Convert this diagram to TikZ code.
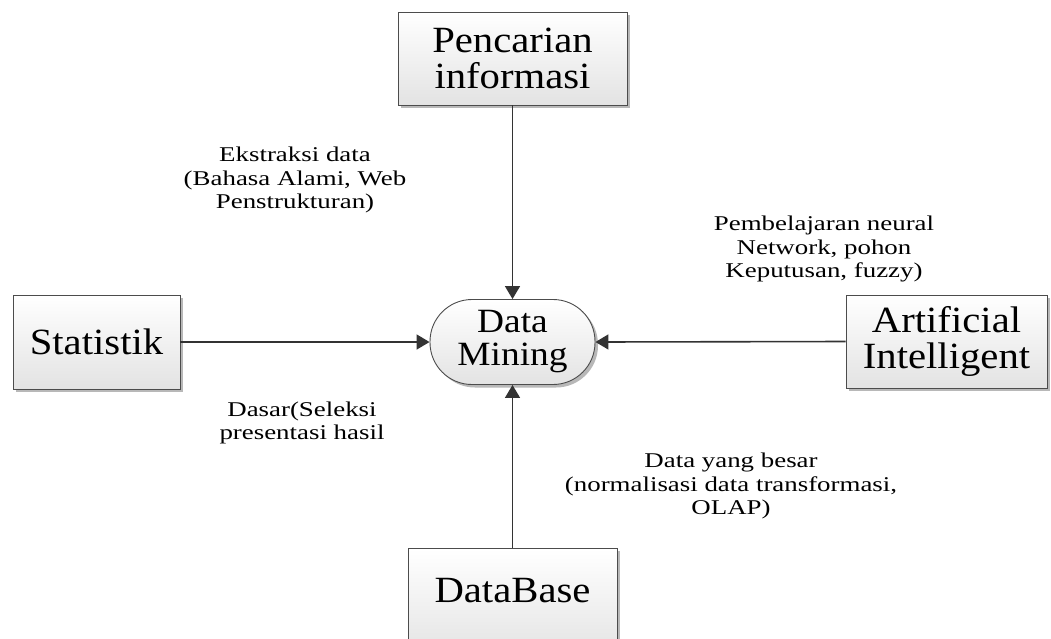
\documentclass[tikz,border=0pt]{standalone}
\usepackage{fontspec}
\setmainfont{Liberation Serif}
\newfontfamily\boxfont[FakeStretch=1.1]{Liberation Serif}
\newfontfamily\labfont[FakeStretch=1.28]{Liberation Serif}
\usetikzlibrary{arrows.meta}
\tikzset{
  shapebox/.style={draw=black!70, line width=0.9pt, top color=white, bottom color=black!11,
    preaction={fill=black!28, transform canvas={xshift=3pt,yshift=-3pt}},
    inner sep=0pt, align=center, font=\boxfont\fontsize{37}{36}\selectfont},
  termbox/.style={shapebox, rounded corners=42pt, font=\boxfont\fontsize{34}{33}\selectfont},
  lab/.style={align=center, inner sep=0pt, font=\labfont\fontsize{21}{23.5}\selectfont},
  conn/.style={draw=black!80, line width=1.6pt, -{Triangle[length=13pt,width=15pt]}}
}
\begin{document}
\begin{tikzpicture}[x=1pt,y=-1pt]
\clip (0,0) rectangle (1051,638);
\fill[white] (0,0) rectangle (1051,638);
\node[shapebox, minimum width=229pt, minimum height=93pt] (pen) at (512.5,58.5) {Pencarian\\informasi};
\node[shapebox, minimum width=167pt, minimum height=94pt] (stat) at (96.5,342) {Statistik};
\node[shapebox, minimum width=201pt, minimum height=93pt] (ai) at (946.5,341.5) {Artificial\\Intelligent};
\node[termbox, minimum width=165pt, minimum height=85pt] (dm) at (512.5,342) {Data\\Mining};
\node[shapebox, minimum width=209pt, minimum height=110pt, anchor=north] (db) at (512.5,548) {};
\node[inner sep=0pt, font=\boxfont\fontsize{37}{36}\selectfont] (dbtext) at (512.5,591) {DataBase};
\node[lab] (l1) at (295,180) {Ekstraksi data\\(Bahasa Alami, Web\\Penstrukturan)};
\node[lab] (l2) at (824,249) {Pembelajaran neural\\Network, pohon\\Keputusan, fuzzy)};
\node[lab] (l3) at (302,423) {Dasar(Seleksi\\presentasi hasil};
\node[lab] (l4) at (731,486) {Data yang besar\\(normalisasi data transformasi,\\OLAP)};
\draw[conn] (pen.south) -- (dm.north);
\draw[conn] (stat.east) -- (dm.west);
\draw[conn] (ai.west) -- (dm.east);
\draw[conn] (db.north) -- (dm.south);
\end{tikzpicture}
\end{document}
